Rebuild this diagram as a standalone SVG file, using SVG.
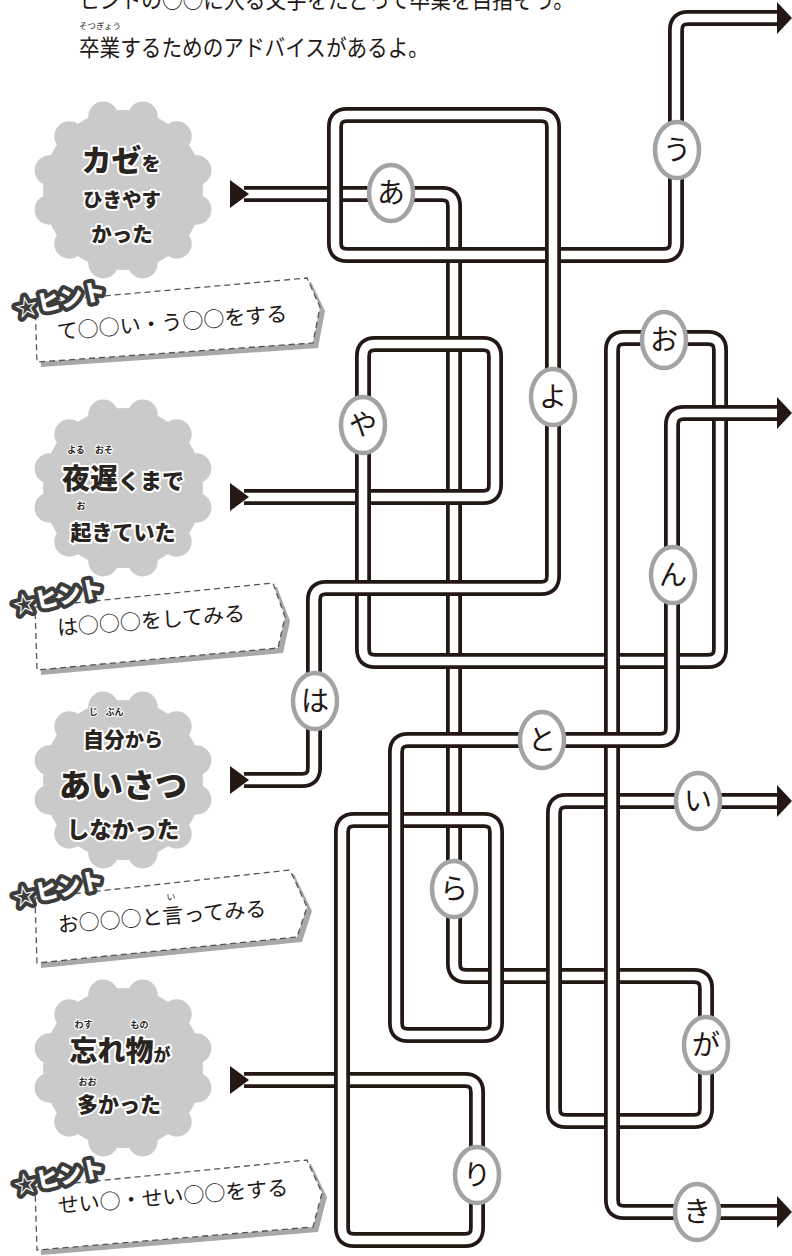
<svg xmlns="http://www.w3.org/2000/svg" xmlns:xlink="http://www.w3.org/1999/xlink" width="792" height="1256" viewBox="0 0 792 1256">
<style>
.blk{fill:none;stroke:#231815;stroke-width:16}
.wht{fill:none;stroke:#fff;stroke-width:8.5}
.lbl ellipse{fill:#fff;stroke:#a3a3a3;stroke-width:4.5}
.lbl text{font-family:"Noto Sans CJK JP",sans-serif;font-size:28px;fill:#231815;text-anchor:middle}
.bt{font-family:"Noto Sans CJK JP",sans-serif;font-weight:900;fill:#2a2420;stroke:#fff;stroke-width:4;paint-order:stroke;stroke-linejoin:round;text-anchor:middle}
.fur{font-family:"Noto Sans CJK JP",sans-serif;font-weight:700;font-size:9px;fill:#2a2420;stroke:#fff;stroke-width:2;paint-order:stroke;text-anchor:middle}
.ht{font-family:"Noto Sans CJK JP",sans-serif;font-size:21px;fill:#231815;text-anchor:middle}
.hf{font-family:"Noto Sans CJK JP",sans-serif;font-size:9px;fill:#231815;text-anchor:middle}
.badge{font-family:"Noto Sans CJK JP",sans-serif;font-weight:900;font-size:23px;fill:#fff;stroke:#3c3c3c;stroke-width:8;paint-order:stroke;stroke-linejoin:round;text-anchor:middle}
.box{fill:#fff;stroke:#555;stroke-width:1.3;stroke-dasharray:6 4}
.shadow{fill:#a8a8a8}
.arrow{fill:#231815}
.burst{fill:#cacaca}
.title{font-family:"Noto Sans CJK JP",sans-serif;fill:#231815}
</style>
<defs>
<g id="burst">
<circle r="80"/>
<circle cx="73.4" cy="19.7" r="15"/><circle cx="53.7" cy="53.7" r="15"/><circle cx="19.7" cy="73.4" r="15"/>
<circle cx="-19.7" cy="73.4" r="15"/><circle cx="-53.7" cy="53.7" r="15"/><circle cx="-73.4" cy="19.7" r="15"/>
<circle cx="-73.4" cy="-19.7" r="15"/><circle cx="-53.7" cy="-53.7" r="15"/><circle cx="-19.7" cy="-73.4" r="15"/>
<circle cx="19.7" cy="-73.4" r="15"/><circle cx="53.7" cy="-53.7" r="15"/><circle cx="73.4" cy="-19.7" r="15"/>
</g>
<path id="p1a" d="M244 194 H442 Q454 194 454 206 V964 Q454 976 466 976 H694 Q706 976 706 988 V1109 Q706 1121 694 1121 H620"/>
<path id="p1b" d="M620 1121 H566 Q554 1121 554 1109 V813 Q554 801 566 801 H779"/>
<path id="p2a" d="M244 497 H483 Q495 497 495 485 V356 Q495 344 483 344 H375 Q363 344 363 356 V420"/>
<path id="p2b" d="M363 420 V649 Q363 661 375 661 H708 Q720 661 720 649 V350 Q720 338 708 338 H624 Q612 338 612 350 V560"/>
<path id="p2c" d="M612 560 V1200 Q612 1212 624 1212 H779"/>
<path id="p3a" d="M244 780 H302 Q314 780 314 768 V600 Q314 588 326 588 H541 Q553 588 553 576 V127 Q553 115 541 115 H347 Q335 115 335 127 V243 Q335 255 347 255 H480"/>
<path id="p3b" d="M480 255 H664 Q676 255 676 243 V30 Q676 18 688 18 H779"/>
<path id="p4a" d="M244 1080 H465 Q477 1080 477 1092 V1228 Q477 1240 465 1240 H354 Q342 1240 342 1228 V1150"/>
<path id="p4b" d="M342 1150 V832 Q342 820 354 820 H484 Q496 820 496 832 V1023 Q496 1035 484 1035 H408 Q396 1035 396 1023 V930"/>
<path id="p4c" d="M396 930 V752 Q396 740 408 740 H660 Q672 740 672 728 V425 Q672 413 684 413 H779"/>
</defs>

<g id="title">
<text class="title" x="79" y="8" font-size="23" textLength="495" lengthAdjust="spacingAndGlyphs">ヒントの○○に入る文字をたどって卒業を目指そう。</text>
<text class="title" x="79" y="29" font-size="8.5">そつぎょう</text>
<text class="title" x="79" y="56" font-size="23" textLength="350" lengthAdjust="spacingAndGlyphs">卒業するためのアドバイスがあるよ。</text>
</g>

<g id="node-kaze">
<use href="#burst" class="burst" x="123" y="190"/>
<text class="bt" x="121" y="171"><tspan font-size="30">カゼ</tspan><tspan font-size="19">を</tspan></text>
<text class="bt" x="122" y="207" font-size="19.5">ひきやす</text>
<text class="bt" x="122" y="242" font-size="20.5">かった</text>
</g>
<g id="node-yoru">
<use href="#burst" class="burst" x="123" y="488"/>
<text class="fur" x="76" y="453">よる</text><text class="fur" x="104" y="453">おそ</text>
<text class="bt" x="123" y="489"><tspan font-size="28">夜遅</tspan><tspan font-size="22">くまで</tspan></text>
<text class="fur" x="81" y="509">お</text>
<text class="bt" x="123" y="540" font-size="21">起きていた</text>
</g>
<g id="node-aisatsu">
<use href="#burst" class="burst" x="123" y="780"/>
<text class="fur" x="93.5" y="715">じ</text><text class="fur" x="114.5" y="715">ぶん</text>
<text class="bt" x="123" y="747"><tspan font-size="21">自分</tspan><tspan font-size="19">から</tspan></text>
<text class="bt" x="123" y="797" font-size="32">あいさつ</text>
<text class="bt" x="123" y="838" font-size="22.5">しなかった</text>
</g>
<g id="node-wasuremono">
<use href="#burst" class="burst" x="123" y="1068"/>
<text class="fur" x="83.5" y="1028">わす</text><text class="fur" x="139.5" y="1028">もの</text>
<text class="bt" x="120" y="1061"><tspan font-size="28">忘れ物</tspan><tspan font-size="17">が</tspan></text>
<text class="fur" x="87.5" y="1085">おお</text>
<text class="bt" x="119" y="1112" font-size="21">多かった</text>
</g>

<g id="hint-1">
<polygon class="shadow" points="39,306 311,282 325,311 318,348 41,367"/>
<polygon class="box" points="35,302 307,278 320,307 313,343 37,362"/>
<text class="ht" x="172" y="330" transform="rotate(-4.5 172 323)">て○○い・う○○をする</text>
<text class="badge" x="60" y="308" transform="rotate(-12 60 300)">☆ヒント</text>
</g>
<g id="hint-2">
<polygon class="shadow" points="39,611 277,587 290,621 283,653 41,675"/>
<polygon class="box" points="35,607 273,583 285,617 278,648 37,670"/>
<text class="ht" x="151" y="628" transform="rotate(-4.5 151 621)">は○○○をしてみる</text>
<text class="badge" x="58" y="605" transform="rotate(-12 58 597)">☆ヒント</text>
</g>
<g id="hint-3">
<polygon class="shadow" points="39,902 294,874 312,911 302,942 41,968"/>
<polygon class="box" points="35,898 290,870 307,907 297,937 37,963"/>
<g transform="rotate(-4.5 162 917)">
<text class="ht" x="162" y="924">お○○○と言ってみる</text>
<text class="hf" x="172.5" y="901">い</text>
</g>
<text class="badge" x="58" y="897" transform="rotate(-12 58 889)">☆ヒント</text>
</g>
<g id="hint-4">
<polygon class="shadow" points="39,1191 311,1164 327,1197 318,1232 41,1255"/>
<polygon class="box" points="35,1187 307,1160 322,1193 313,1227 37,1250"/>
<text class="ht" x="173" y="1204" transform="rotate(-4.5 173 1197)">せい○・せい○○をする</text>
<text class="badge" x="59" y="1185" transform="rotate(-12 59 1177)">☆ヒント</text>
</g>

<g id="connectors">
<use href="#p1a" class="blk"/><use href="#p1a" class="wht"/>
<use href="#p1b" class="blk"/><use href="#p1b" class="wht"/>
<use href="#p2a" class="blk"/><use href="#p2a" class="wht"/>
<use href="#p2b" class="blk"/><use href="#p2b" class="wht"/>
<use href="#p2c" class="blk"/><use href="#p2c" class="wht"/>
<use href="#p3b" class="blk"/><use href="#p3b" class="wht"/>
<use href="#p3a" class="blk"/><use href="#p3a" class="wht"/>
<use href="#p4a" class="blk"/><use href="#p4a" class="wht"/>
<use href="#p4b" class="blk"/><use href="#p4b" class="wht"/>
<use href="#p4c" class="blk"/><use href="#p4c" class="wht"/>
<polygon class="arrow" points="230,180 249,194 230,208"/>
<polygon class="arrow" points="230,483 249,497 230,511"/>
<polygon class="arrow" points="230,766 249,780 230,794"/>
<polygon class="arrow" points="230,1066 249,1080 230,1094"/>
<polygon class="arrow" points="777,2 792,18 777,34"/>
<polygon class="arrow" points="777,397 792,413 777,429"/>
<polygon class="arrow" points="777,785 792,801 777,817"/>
<polygon class="arrow" points="777,1196 792,1212 777,1228"/>
</g>

<g id="labels" class="lbl">
<g id="lbl-a"><ellipse cx="391" cy="193" rx="22" ry="28"/><text x="391" y="203">あ</text></g>
<g id="lbl-u"><ellipse cx="677" cy="150" rx="22" ry="28"/><text x="677" y="160">う</text></g>
<g id="lbl-ya"><ellipse cx="363" cy="425" rx="22" ry="28"/><text x="363" y="435">や</text></g>
<g id="lbl-yo"><ellipse cx="553" cy="397" rx="22" ry="28"/><text x="553" y="407">よ</text></g>
<g id="lbl-o"><ellipse cx="664" cy="340" rx="22" ry="28"/><text x="664" y="350">お</text></g>
<g id="lbl-n"><ellipse cx="673" cy="575" rx="22" ry="28"/><text x="673" y="585">ん</text></g>
<g id="lbl-ha"><ellipse cx="315" cy="701" rx="22" ry="28"/><text x="315" y="711">は</text></g>
<g id="lbl-to"><ellipse cx="542" cy="740" rx="22" ry="28"/><text x="542" y="750">と</text></g>
<g id="lbl-ra"><ellipse cx="454" cy="889" rx="22" ry="28"/><text x="454" y="899">ら</text></g>
<g id="lbl-i"><ellipse cx="698" cy="801" rx="22" ry="28"/><text x="698" y="811">い</text></g>
<g id="lbl-ga"><ellipse cx="706" cy="1045" rx="22" ry="28"/><text x="706" y="1055">が</text></g>
<g id="lbl-ri"><ellipse cx="477" cy="1175" rx="22" ry="28"/><text x="477" y="1185">り</text></g>
<g id="lbl-ki"><ellipse cx="697" cy="1212" rx="22" ry="28"/><text x="697" y="1222">き</text></g>
</g>
</svg>
